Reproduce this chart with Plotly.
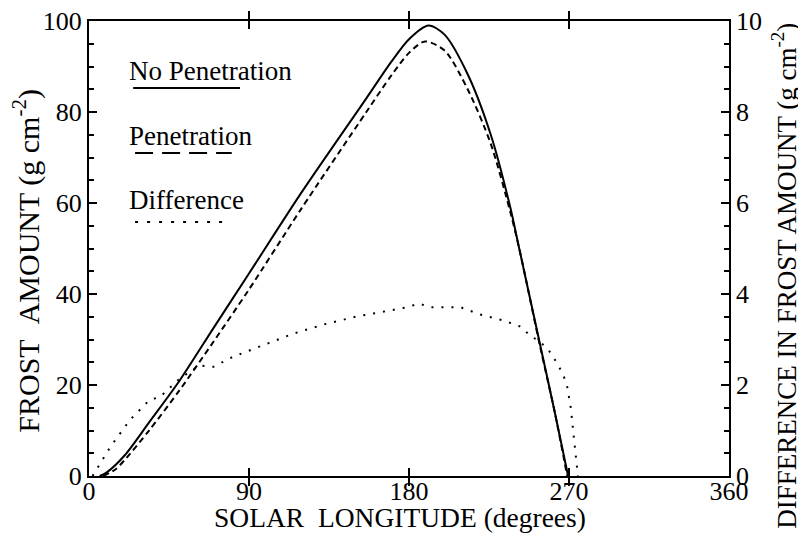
import plotly.graph_objects as go

# No penetration (solid), left axis
np_deg = [6, 10, 20, 34, 51, 70, 90, 119, 156, 170, 180, 191, 200, 213, 226, 237, 242, 254, 262, 269.5]
np_val = [0, 0.8, 4.5, 11.9, 21, 32.5, 44.5, 62, 83, 91, 96, 99, 97, 88.3, 75, 59, 50, 28.4, 14, 0]

# Penetration (dashed), left axis
p_deg = [8, 15, 20, 34, 51, 70, 90, 119, 156, 170, 180, 189, 200, 213, 226, 237, 242, 254, 262, 269]
p_val = [0, 1.5, 3.5, 10.1, 18.9, 29.5, 41, 58.5, 80, 88, 93, 95.5, 93.5, 85, 73, 58, 50, 28, 14, 0]

# Difference (dotted), right axis
d_deg = [2, 12, 23, 34, 40, 51, 62, 70, 81, 93, 104, 115, 132, 151, 164, 179, 185.5, 192, 209, 220,
         233, 243, 249, 252, 258, 263.5, 267, 269, 271, 272, 273.5, 275]
d_val = [0, 0.64, 1.23, 1.67, 1.74, 2.14, 2.43, 2.40, 2.62, 2.80, 2.98, 3.13, 3.33, 3.51, 3.60, 3.71, 3.79, 3.71, 3.71, 3.55,
         3.42, 3.28, 3.05, 3.0, 2.8, 2.47, 2.2, 1.96, 1.5, 1.16, 0.6, 0]

x_ticks = [0, 90, 180, 270, 360]
y_ticks = [0, 20, 40, 60, 80, 100]
y2_ticks = [0, 2, 4, 6, 8, 10]

FONT = "Liberation Serif"
BLACK = "#000000"
FS = 26

fig = go.Figure()
fig.add_trace(go.Scatter(x=np_deg, y=np_val, mode="lines", line=dict(color=BLACK, width=2, shape="spline", smoothing=0.8),
                         name="No Penetration", showlegend=False))
fig.add_trace(go.Scatter(x=p_deg, y=p_val, mode="lines", line=dict(color=BLACK, width=2, dash="6px,4px", shape="spline", smoothing=0.8),
                         name="Penetration", showlegend=False))
fig.add_trace(go.Scatter(x=d_deg, y=d_val, mode="lines", line=dict(color=BLACK, width=2, dash="2px,8px"),
                         name="Difference", showlegend=False, yaxis="y2"))

# Legend (drawn inside the plot as text with line samples)
legend_items = [("No Penetration", 0.890, 0.853, "solid", 0.069, 0.236),
                ("Penetration", 0.747, 0.710, "18px,9px", 0.072, 0.223),
                ("Difference", 0.607, 0.558, "3px,9px", 0.072, 0.222)]
for label, ty, ly, dash, x0, x1 in legend_items:
    fig.add_annotation(text=label, xref="paper", yref="paper", x=0.059, y=ty, xanchor="left", yanchor="middle",
                       showarrow=False, font=dict(family=FONT, size=27, color=BLACK))
    fig.add_shape(type="line", xref="paper", yref="paper", x0=x0, x1=x1, y0=ly, y1=ly,
                  line=dict(color=BLACK, width=2, dash=dash))

# Axis titles
fig.add_annotation(text="SOLAR\u00a0\u00a0LONGITUDE (degrees)", xref="paper", yref="paper", x=0.486, y=-0.092,
                   xanchor="center", yanchor="middle", showarrow=False, font=dict(family=FONT, size=27.5, color=BLACK))
fig.add_annotation(text="FROST\u00a0\u00a0AMOUNT (g cm<sup>-2</sup>)", xref="paper", yref="paper", x=-0.097, y=0.473,
                   xanchor="center", yanchor="middle", textangle=-90, showarrow=False,
                   font=dict(family=FONT, size=30, color=BLACK))
fig.add_annotation(text="DIFFERENCE IN FROST AMOUNT (g cm<sup>-2</sup>)", xref="paper", yref="paper", x=1.086, y=0.44,
                   xanchor="center", yanchor="middle", textangle=-90, showarrow=False,
                   font=dict(family=FONT, size=27, color=BLACK))

fig.update_layout(
    width=798, height=531,
    margin=dict(l=81, r=77, t=13, b=63),
    paper_bgcolor="white", plot_bgcolor="white",
    font=dict(family=FONT, size=FS, color=BLACK),
    xaxis=dict(range=[0, 360], tickvals=x_ticks, ticks="inside", ticklen=8, tickwidth=1.5, tickcolor=BLACK,
               showline=True, linewidth=2, linecolor=BLACK, mirror="allticks", showgrid=False, zeroline=False,
               automargin=False, ticklabeloverflow="allow", ticklabelstandoff=-9,
               tickfont=dict(family=FONT, size=FS)),
    yaxis=dict(range=[0, 100], tickvals=y_ticks, ticks="inside", ticklen=8, tickwidth=1.5, tickcolor=BLACK,
               showline=True, linewidth=2, linecolor=BLACK, showgrid=False, zeroline=False, automargin=False,
               ticklabeloverflow="allow",
               minor=dict(dtick=5, ticks="inside", ticklen=5, tickwidth=1.5, tickcolor=BLACK, showgrid=False),
               tickfont=dict(family=FONT, size=FS)),
    yaxis2=dict(range=[0, 10], tickvals=y2_ticks, overlaying="y", side="right", ticks="inside", ticklen=8,
                tickwidth=1.5, tickcolor=BLACK, showline=True, linewidth=1.5, linecolor=BLACK, showgrid=False,
                zeroline=False, automargin=False, ticklabeloverflow="allow",
                minor=dict(dtick=0.5, ticks="inside", ticklen=5, tickwidth=1.5, tickcolor=BLACK, showgrid=False),
                tickfont=dict(family=FONT, size=FS)),
)

fig.write_html("out.html")
